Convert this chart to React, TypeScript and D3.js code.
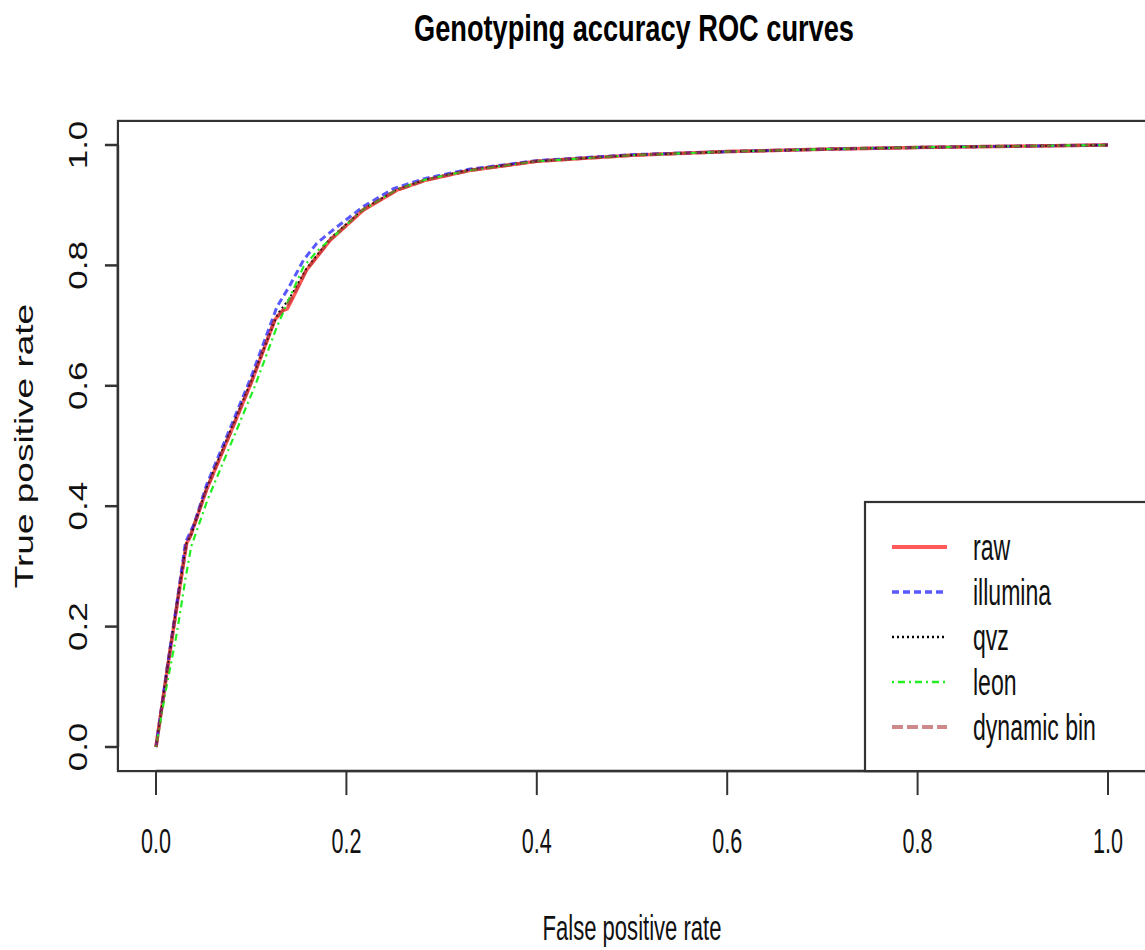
import React from 'react';
import * as d3 from 'd3';

// ROC points: [false positive rate, true positive rate]
const raw: [number, number][] = [
  [0, 0], [0.012, 0.13], [0.022, 0.235], [0.032, 0.338], [0.036, 0.35], [0.053, 0.427],
  [0.078, 0.521], [0.1, 0.605], [0.125, 0.71], [0.133, 0.725], [0.138, 0.728], [0.145, 0.75],
  [0.158, 0.792], [0.183, 0.842], [0.218, 0.892], [0.253, 0.925], [0.284, 0.942], [0.33, 0.958],
  [0.4, 0.973], [0.5, 0.983], [0.6, 0.989], [0.7, 0.993], [0.8, 0.996], [0.9, 0.998], [1, 1],
];
const illumina: [number, number][] = [
  [0, 0], [0.012, 0.135], [0.022, 0.24], [0.031, 0.34], [0.04, 0.37], [0.053, 0.435],
  [0.078, 0.53], [0.1, 0.615], [0.127, 0.731], [0.14, 0.765], [0.155, 0.809], [0.169, 0.837],
  [0.19, 0.864], [0.218, 0.898], [0.25, 0.928], [0.284, 0.945], [0.33, 0.96], [0.4, 0.974],
  [0.5, 0.984], [0.6, 0.989], [0.7, 0.993], [0.8, 0.996], [0.9, 0.998], [1, 1],
];
const qvz: [number, number][] = [
  [0, 0], [0.012, 0.132], [0.022, 0.237], [0.032, 0.338], [0.037, 0.352], [0.053, 0.43],
  [0.078, 0.525], [0.1, 0.608], [0.128, 0.72], [0.14, 0.745], [0.158, 0.795], [0.183, 0.845],
  [0.218, 0.894], [0.253, 0.926], [0.284, 0.943], [0.33, 0.959], [0.4, 0.973], [0.5, 0.983],
  [0.6, 0.989], [0.7, 0.993], [0.8, 0.996], [0.9, 0.998], [1, 1],
];
const leon: [number, number][] = [
  [0, 0], [0.011, 0.1], [0.022, 0.19], [0.031, 0.28], [0.037, 0.333], [0.054, 0.41],
  [0.083, 0.52], [0.104, 0.6], [0.127, 0.698], [0.14, 0.745], [0.155, 0.798], [0.17, 0.825],
  [0.183, 0.843], [0.218, 0.893], [0.253, 0.926], [0.284, 0.943], [0.33, 0.958], [0.4, 0.973],
  [0.5, 0.983], [0.6, 0.989], [0.7, 0.993], [0.8, 0.996], [0.9, 0.998], [1, 1],
];
const dynamicBin: [number, number][] = [
  [0, 0], [0.012, 0.131], [0.022, 0.236], [0.032, 0.337], [0.036, 0.35], [0.053, 0.428],
  [0.078, 0.522], [0.1, 0.606], [0.125, 0.711], [0.133, 0.725], [0.14, 0.738], [0.158, 0.793],
  [0.183, 0.843], [0.218, 0.893], [0.253, 0.925], [0.284, 0.942], [0.33, 0.958], [0.4, 0.973],
  [0.5, 0.983], [0.6, 0.989], [0.7, 0.993], [0.8, 0.996], [0.9, 0.998], [1, 1],
];

const seriesNames = ['raw', 'illumina', 'qvz', 'leon', 'dynamic bin'];
const seriesData = [raw, illumina, qvz, leon, dynamicBin];
const xTicks = [0, 0.2, 0.4, 0.6, 0.8, 1.0];
const yTicks = [0, 0.2, 0.4, 0.6, 0.8, 1.0];

const styles = [
  { stroke: 'rgba(255,0,0,0.65)', width: 3.5, dash: '' },
  { stroke: 'rgba(0,0,255,0.65)', width: 3, dash: '7,4' },
  { stroke: '#000', width: 1.8, dash: '2,3' },
  { stroke: '#22ee22', width: 2.2, dash: '2,4,7,4' },
  { stroke: 'rgba(165,42,42,0.55)', width: 3.5, dash: '11,4' },
];

const font = '"Liberation Sans", Arial, Helvetica, sans-serif';
const axisColor = '#333';

export default function App() {
  const W = 1145;
  const H = 950;
  const x = d3.scaleLinear().domain([0, 1]).range([156, 1108]);
  const y = d3.scaleLinear().domain([0, 1]).range([747, 145]);
  const [px0, px1] = [x(-0.04), x(1.04)];
  const [py0, py1] = [y(-0.04), y(1.04)];

  const line = d3
    .line<[number, number]>()
    .x((d) => x(d[0]))
    .y((d) => y(d[1]));

  const legendTop = 502;
  const legendLeft = 865;
  const rowY = (i: number) => 547 + i * 45;

  return (
    <svg width={W} height={H} style={{ display: 'block', position: 'absolute', left: 0, top: 0 }}>
      <rect width={W} height={H} fill="#fff" />
      <text
        x={634}
        y={41}
        fontFamily={font}
        fontWeight="bold"
        fontSize={37}
        textAnchor="middle"
        textLength={440}
        lengthAdjust="spacingAndGlyphs"
      >
        Genotyping accuracy ROC curves
      </text>

      <defs>
        <clipPath id="plotClip">
          <rect x={px0} y={py1} width={px1 - px0} height={py0 - py1} />
        </clipPath>
      </defs>

      <g clipPath="url(#plotClip)">
        {seriesData.map((d, i) => (
          <path
            key={seriesNames[i]}
            d={line(d) || ''}
            fill="none"
            stroke={styles[i].stroke}
            strokeWidth={styles[i].width}
            strokeDasharray={styles[i].dash || undefined}
            strokeLinejoin="round"
          />
        ))}
      </g>

      {/* box */}
      <rect x={px0} y={py1} width={px1 - px0} height={py0 - py1} fill="none" stroke={axisColor} strokeWidth={2.2} />

      {/* x axis */}
      <line x1={x(0)} x2={x(1)} y1={py0} y2={py0} stroke={axisColor} strokeWidth={2.5} />
      {xTicks.map((t) => (
        <g key={'x' + t}>
          <line x1={x(t)} x2={x(t)} y1={py0} y2={py0 + 24} stroke={axisColor} strokeWidth={2} />
          <text
            transform={`translate(${x(t)},853) scale(0.6,1)`}
            fontFamily={font}
            fontSize={36}
            textAnchor="middle"
            fill="#111"
          >
            {t.toFixed(1)}
          </text>
        </g>
      ))}

      {/* y axis */}
      <line x1={px0} x2={px0} y1={y(0)} y2={y(1)} stroke={axisColor} strokeWidth={2.5} />
      {yTicks.map((t) => (
        <g key={'y' + t}>
          <line x1={px0 - 13} x2={px0} y1={y(t)} y2={y(t)} stroke={axisColor} strokeWidth={2.5} />
          <text
            transform={`translate(87,${y(t)}) rotate(-90) scale(1,0.72)`}
            fontFamily={font}
            fontSize={35}
            textAnchor="middle"
            fill="#111"
          >
            {t.toFixed(1)}
          </text>
        </g>
      ))}

      {/* axis titles */}
      <text
        transform="translate(632,940) scale(0.63,1)"
        fontFamily={font}
        fontSize={35}
        textAnchor="middle"
        fill="#111"
      >
        False positive rate
      </text>
      <text
        transform={`translate(33,${(py0 + py1) / 2}) rotate(-90) scale(1,0.68)`}
        fontFamily={font}
        fontSize={37}
        textAnchor="middle"
        fill="#111"
      >
        True positive rate
      </text>

      {/* legend */}
      <rect
        x={legendLeft}
        y={legendTop}
        width={px1 - legendLeft}
        height={py0 - legendTop}
        fill="#fff"
        stroke={axisColor}
        strokeWidth={2.2}
      />
      {seriesNames.map((name, i) => (
        <g key={'leg' + name}>
          <line
            x1={892}
            x2={947}
            y1={rowY(i)}
            y2={rowY(i)}
            stroke={styles[i].stroke}
            strokeWidth={styles[i].width + 0.5}
            strokeDasharray={styles[i].dash || undefined}
          />
          <text
            transform={`translate(973,${rowY(i) + 13}) scale(0.64,1)`}
            fontFamily={font}
            fontSize={36}
            fill="#111"
          >
            {name}
          </text>
        </g>
      ))}
    </svg>
  );
}
